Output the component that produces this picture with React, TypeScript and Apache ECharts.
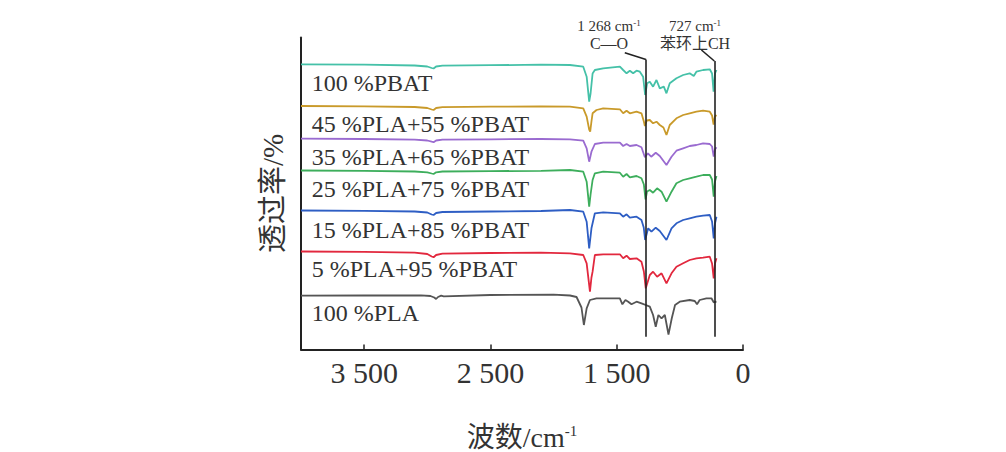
import { useEffect, useRef } from 'react';
import * as echarts from 'echarts';

// ---------- data ----------
const seriesNames = [
  '100 %PBAT',
  '45 %PLA+55 %PBAT',
  '35 %PLA+65 %PBAT',
  '25 %PLA+75 %PBAT',
  '15 %PLA+85 %PBAT',
  '5 %PLA+95 %PBAT',
  '100 %PLA',
];
const seriesColors = ['#45C1A8', '#C99A2A', '#9A6BD0', '#3DAE5C', '#2E5EC4', '#E2283E', '#555555'];

// [wavenumber cm-1, offset transmittance (arbitrary units)]
const pbat100: [number, number][] = [
  [4000, 285.2], [3500, 284.8], [3100, 284], [3000, 283], [2965, 281.5], [2950, 281], [2930, 283], [2880, 283.8],
  [2500, 284.3], [2100, 284.8], [1870, 284.5], [1765, 282.8], [1738, 272.8], [1718, 247.8], [1707, 256], [1691, 276],
  [1673, 279.5], [1607, 281.2], [1475, 282.8], [1449, 279.5], [1422, 276.2], [1396, 278.8], [1370, 276.2], [1343, 278.8],
  [1317, 277.8], [1291, 272.8], [1275, 254.5], [1259, 266.2], [1238, 267.8], [1212, 262.8], [1185, 269.5], [1159, 261.2],
  [1127, 262.8], [1106, 256.2], [1080, 266.2], [1027, 271.2], [974, 274.5], [922, 276.2], [890, 273.5], [869, 277.8],
  [816, 279.5], [763, 280.2], [745, 276], [733, 257.8], [722, 276], [710, 279.5],
];
const pla45: [number, number][] = [
  [4000, 243.5], [3500, 243.2], [3100, 242.5], [3000, 241.5], [2965, 240], [2950, 239.5], [2930, 241.5], [2880, 242.3],
  [2500, 242.8], [2100, 243.2], [1870, 242.8], [1765, 241.2], [1738, 232.8], [1718, 220], [1710, 217.8], [1700, 228],
  [1691, 236.2], [1660, 239.5], [1607, 241.2], [1475, 240.2], [1449, 236.2], [1422, 238.8], [1396, 236.2], [1343, 237.8],
  [1304, 236.2], [1285, 228], [1277, 223.5], [1262, 229], [1238, 229.5], [1212, 226.2], [1185, 227.8], [1159, 224.5],
  [1130, 222], [1106, 214.5], [1080, 224.5], [1027, 231.2], [974, 234.5], [922, 236.2], [869, 237.8], [816, 238.8],
  [763, 237.8], [745, 234], [733, 225], [722, 233], [710, 234.5],
];
const pla35: [number, number][] = [
  [4000, 210.8], [3500, 210.5], [3100, 209.8], [3000, 209], [2965, 207.8], [2950, 207.3], [2930, 209], [2880, 209.8],
  [2500, 210.2], [2100, 210.5], [1870, 210.2], [1765, 208.8], [1738, 201.2], [1718, 187.8], [1700, 197.8], [1673, 205.5],
  [1607, 206.8], [1475, 206.8], [1449, 203.5], [1422, 205.5], [1396, 203.5], [1343, 204.5], [1304, 202.2], [1277, 192.2],
  [1253, 196.2], [1227, 192.8], [1191, 196.8], [1159, 193.5], [1106, 184.5], [1066, 192.8], [1027, 198.8], [974, 201.2],
  [922, 203.5], [869, 204.5], [816, 206.2], [763, 205.5], [745, 203], [732, 192.8], [722, 200], [710, 202.2],
];
const pla25: [number, number][] = [
  [4000, 179], [3500, 178.7], [3100, 178], [3000, 177.2], [2965, 176], [2950, 175.5], [2930, 177.2], [2880, 178],
  [2500, 178.4], [2100, 178.6], [1870, 179.5], [1765, 177.8], [1738, 167.8], [1718, 142.8], [1707, 155], [1691, 169.5],
  [1673, 176.2], [1607, 177.8], [1475, 176.8], [1449, 172.8], [1422, 175.5], [1396, 172.2], [1343, 173.5], [1304, 171.2],
  [1285, 165], [1272, 150], [1260, 158], [1238, 159.5], [1212, 156.8], [1180, 161.2], [1145, 157.8], [1106, 147.8],
  [1066, 157.8], [1027, 166.2], [974, 169.5], [922, 171.2], [869, 172.8], [816, 174.5], [763, 174.5], [745, 170],
  [732, 152.8], [722, 168], [710, 173.5],
];
const pla15: [number, number][] = [
  [4000, 139], [3500, 138.7], [3100, 138], [3000, 137], [2965, 135], [2950, 134.5], [2930, 136.5], [2880, 137.5],
  [2500, 138], [2100, 138.5], [1870, 139.5], [1765, 137.8], [1738, 127.8], [1718, 101.2], [1700, 121.2], [1673, 136.2],
  [1607, 137.2], [1475, 136.2], [1449, 132.8], [1422, 135.2], [1396, 131.8], [1343, 132.8], [1304, 129.5], [1286, 122],
  [1275, 109.5], [1251, 121.2], [1225, 117.8], [1191, 121.8], [1159, 118.5], [1106, 109.5], [1066, 121.2], [1027, 126.2],
  [974, 129.5], [922, 131.2], [869, 132.8], [816, 133.8], [763, 134.5], [745, 128], [732, 111.2], [722, 126], [710, 132.8],
];
const pla5: [number, number][] = [
  [4000, 98], [3500, 97.6], [3100, 96.8], [3000, 95.5], [2965, 93], [2950, 92.3], [2930, 94.5], [2880, 95.8],
  [2500, 96.5], [2100, 96.8], [1870, 96.2], [1765, 94.5], [1738, 86.2], [1712, 57.8], [1700, 72], [1691, 77.8],
  [1673, 94.5], [1607, 95.2], [1475, 95.2], [1449, 91.2], [1422, 93.8], [1396, 90.5], [1343, 91.2], [1304, 87.8],
  [1285, 78], [1270, 61.2], [1238, 74.5], [1212, 77.8], [1180, 72.8], [1145, 76.2], [1106, 66.2], [1066, 76.2],
  [1027, 82.8], [974, 86.2], [922, 89.5], [869, 91.2], [816, 91.8], [763, 92.8], [745, 86], [732, 71.2], [722, 86],
  [710, 91.2],
];
const pla100: [number, number][] = [
  [4000, 53.8], [3500, 54], [3050, 54.2], [2975, 53.5], [2945, 52], [2930, 50.5], [2915, 52.5], [2890, 53.8],
  [2870, 53.2], [2500, 54.5], [2000, 54.8], [1870, 54], [1818, 52.5], [1779, 42], [1760, 24.5], [1738, 41.2],
  [1712, 49.5], [1660, 51.2], [1475, 51.2], [1455, 45.2], [1431, 49.5], [1409, 47.8], [1383, 45.2], [1343, 47.8],
  [1304, 46.2], [1270, 44.5], [1238, 42.8], [1212, 34.5], [1191, 22.8], [1170, 34.5], [1145, 31.2], [1119, 34.5],
  [1090, 15], [1064, 31.2], [1038, 44.5], [1001, 47.8], [922, 49.5], [882, 48.5], [864, 45.2], [843, 49.5],
  [790, 51.2], [750, 51.2], [732, 47.2], [710, 47.8],
];
const seriesData = [pbat100, pla45, pla35, pla25, pla15, pla5, pla100];

// label anchors (wavenumber, value) for curve names
const labelWavenumber = 3915;
const labelValues = [266.5, 225.5, 192.8, 160.5, 119.5, 80.5, 36.5];

// x tick labels (display axis values 0,1000,2000,3000)
const xTickLabels = ['0', '1 500', '2 500', '3 500'];

// marker bands
const markerWavenumbers = [1268, 727];
const markerTitles = ['1 268 cm', '727 cm'];
const markerSubtitles = ['C—O', '苯环上CH'];

const SERIF = "'Liberation Serif','Times New Roman','Noto Sans CJK SC',serif";
const TXT = '#333';

export default function App() {
  const ref = useRef<HTMLDivElement>(null);
  useEffect(() => {
    if (!ref.current) return;
    const chart = echarts.init(ref.current, undefined, { renderer: 'svg' });

    const series: any[] = seriesData.map((d, i) => ({
      type: 'line',
      name: seriesNames[i],
      data: d,
      xAxisIndex: 0,
      yAxisIndex: 0,
      symbol: 'none',
      showSymbol: false,
      silent: true,
      lineStyle: { color: seriesColors[i], width: 1.8 },
      itemStyle: { color: seriesColors[i] },
      markPoint: {
        symbol: 'circle',
        symbolSize: 0,
        silent: true,
        itemStyle: { color: 'transparent' },
        label: {
          show: true,
          position: 'right',
          distance: 0,
          formatter: () => seriesNames[i],
          color: TXT,
          fontSize: 24,
          fontFamily: SERIF,
        },
        data: [{ coord: [labelWavenumber, labelValues[i]] }],
      },
    }));

    // marker lines attached to a helper series
    series.push({
      type: 'line',
      name: 'markers',
      data: [],
      xAxisIndex: 0,
      yAxisIndex: 0,
      silent: true,
      markLine: {
        silent: true,
        symbol: ['none', 'none'],
        label: { show: false },
        lineStyle: { color: '#222', width: 1.6, type: 'solid' },
        data: [
          [{ coord: [1436, 296.8] }, { coord: [markerWavenumbers[0], 290] }],
          [{ coord: [markerWavenumbers[0], 290] }, { coord: [markerWavenumbers[0], 12.8] }],
          [{ coord: [829, 299.5] }, { coord: [markerWavenumbers[1], 288.5] }],
          [{ coord: [markerWavenumbers[1], 288.5] }, { coord: [markerWavenumbers[1], 12.8] }],
        ],
      },
    });

    const annX = [609, 695];
    const graphic: any[] = [];
    markerTitles.forEach((t, i) => {
      graphic.push({
        type: 'text',
        x: annX[i],
        y: 26,
        silent: true,
        style: {
          text: `{n|${t}}{s|-1}`,
          align: 'center',
          verticalAlign: 'middle',
          fill: TXT,
          rich: {
            n: { fontSize: 15, fontFamily: SERIF, fill: TXT, color: TXT },
            s: { fontSize: 9, fontFamily: SERIF, fill: TXT, color: TXT, verticalAlign: 'top' },
          },
        },
      });
      graphic.push({
        type: 'text',
        x: annX[i],
        y: 43.5,
        silent: true,
        style: {
          text: markerSubtitles[i],
          align: 'center',
          verticalAlign: 'middle',
          fill: TXT,
          fontSize: 16,
          fontFamily: SERIF,
        },
      });
    });

    chart.setOption({
      animation: false,
      textStyle: { fontFamily: SERIF },
      grid: { left: 301, right: 263, top: 37.5, bottom: 102.5, containLabel: false, outerBoundsMode: 'none' },
      xAxis: [
        {
          type: 'value',
          min: 500,
          max: 4000,
          inverse: true,
          show: false,
          position: 'top',
        },
        {
          type: 'value',
          min: 0,
          max: 3500,
          interval: 1000,
          inverse: true,
          position: 'bottom',
          axisLine: { show: true, onZero: false, lineStyle: { color: '#222', width: 2 } },
          axisTick: { show: true, inside: true, length: 5, lineStyle: { color: '#222', width: 1.5 } },
          splitLine: { show: false },
          axisLabel: {
            show: true,
            margin: 8,
            color: TXT,
            fontSize: 30,
            fontFamily: SERIF,
            formatter: (v: number) => {
              const idx = Math.round(v / 1000);
              return v % 1000 === 0 && idx < xTickLabels.length ? xTickLabels[idx] : '';
            },
          },
          name: '{a|波数/cm}{s|-1}',
          nameLocation: 'middle',
          nameGap: 74,
          nameTextStyle: {
            color: TXT,
            rich: {
              a: { fontSize: 28, fontFamily: SERIF, color: TXT },
              s: { fontSize: 15, fontFamily: SERIF, color: TXT, verticalAlign: 'top' },
            },
          },
        },
      ],
      yAxis: {
        type: 'value',
        min: 0,
        max: 312,
        axisLine: { show: true, onZero: false, lineStyle: { color: '#222', width: 2 } },
        axisTick: { show: false },
        axisLabel: { show: false },
        splitLine: { show: false },
        name: '透过率/%',
        nameLocation: 'middle',
        nameGap: 14,
        nameRotate: 90,
        nameTextStyle: { color: TXT, fontSize: 29, fontFamily: SERIF },
      },
      series,
      graphic,
    });
    return () => chart.dispose();
  }, []);
  return (
    <div
      ref={ref}
      style={{ position: 'fixed', left: 0, top: 0, width: 1006, height: 452, background: '#fff' }}
    />
  );
}
